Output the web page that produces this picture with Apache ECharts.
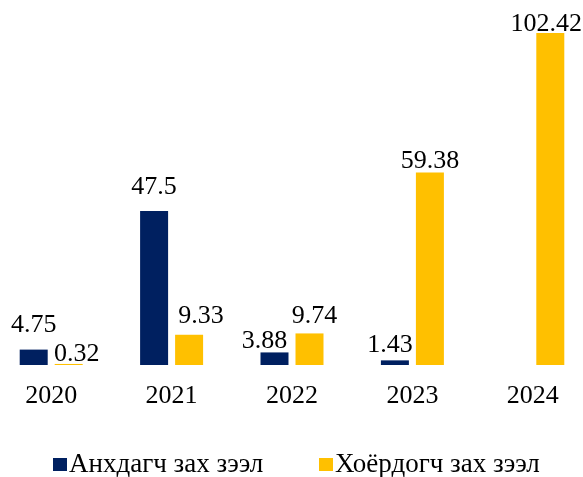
<!DOCTYPE html>
<html>
<head>
<meta charset="utf-8">
<script src="https://cdn.jsdelivr.net/npm/echarts@6/dist/echarts.min.js"></script>
<style>
  html, body { margin: 0; padding: 0; background: #fff; overflow: hidden; }
  /* chart is a bit wider than the window: the outer categories run past the edges */
  #chart { width: 620px; height: 477px; margin-left: -18px; }
</style>
</head>
<body>
<div id="chart"></div>
<script>
// years and the two loan series
const years = ['2020', '2021', '2022', '2023', '2024'];
const primaryName = 'Анхдагч зах зээл';
const secondaryName = 'Хоёрдогч зах зээл';
const primary = [4.75, 47.5, 3.88, 1.43, 0];
const secondary = [0.32, 9.33, 9.74, 59.38, 102.42];

const serif = '"Liberation Serif", "Times New Roman", serif';

// label nudges, Excel moved some labels to keep them apart
const primaryLabelTweaks = {
    2: {offset: [-10, 13]},
    3: {offset: [-5, 9]}
};
const secondaryLabelTweaks = {
    0: {offset: [8, 14]},
    1: {offset: [12, 5]},
    2: {offset: [5, 7]},
    3: {offset: [0, 13]},
    4: {offset: [-4, 15]}
};

function withTweaks(values, tweaks) {
    return values.map((v, i) => tweaks[i] ? {value: v, label: tweaks[i]} : v);
}

const chart = echarts.init(document.getElementById('chart'));

const legendBase = {
    top: 451,
    padding: 0,
    icon: 'rect',
    itemWidth: 14,
    itemHeight: 13,
    textStyle: {fontFamily: serif, fontSize: 27, color: '#000', padding: [0, 0, 0, -3]}
};

chart.setOption({
    animation: false,
    grid: {left: 9, width: 602, top: 33, bottom: 112, containLabel: false},
    legend: [
        Object.assign({}, legendBase, {data: [primaryName], left: 71}),
        Object.assign({}, legendBase, {data: [secondaryName], left: 337})
    ],
    xAxis: {
        type: 'category',
        data: years,
        axisLine: {show: false},
        axisTick: {show: false},
        axisLabel: {fontFamily: serif, fontSize: 26, color: '#000', margin: 18}
    },
    yAxis: {
        type: 'value',
        min: 0,
        max: 102.42,
        show: false,
        splitLine: {show: false}
    },
    series: [{
        name: primaryName,
        type: 'bar',
        barWidth: 28,
        barGap: '25%',
        itemStyle: {color: '#002060'},
        label: {
            show: true,
            position: 'top',
            distance: 11,
            fontFamily: serif,
            fontSize: 26,
            color: '#000',
            formatter: p => p.value === 0 ? '' : String(p.value)
        },
        data: withTweaks(primary, primaryLabelTweaks)
    }, {
        name: secondaryName,
        type: 'bar',
        barWidth: 28,
        itemStyle: {color: '#FFC000'},
        label: {
            show: true,
            position: 'top',
            distance: 11,
            fontFamily: serif,
            fontSize: 26,
            color: '#000'
        },
        data: withTweaks(secondary, secondaryLabelTweaks)
    }]
});
</script>
</body>
</html>
